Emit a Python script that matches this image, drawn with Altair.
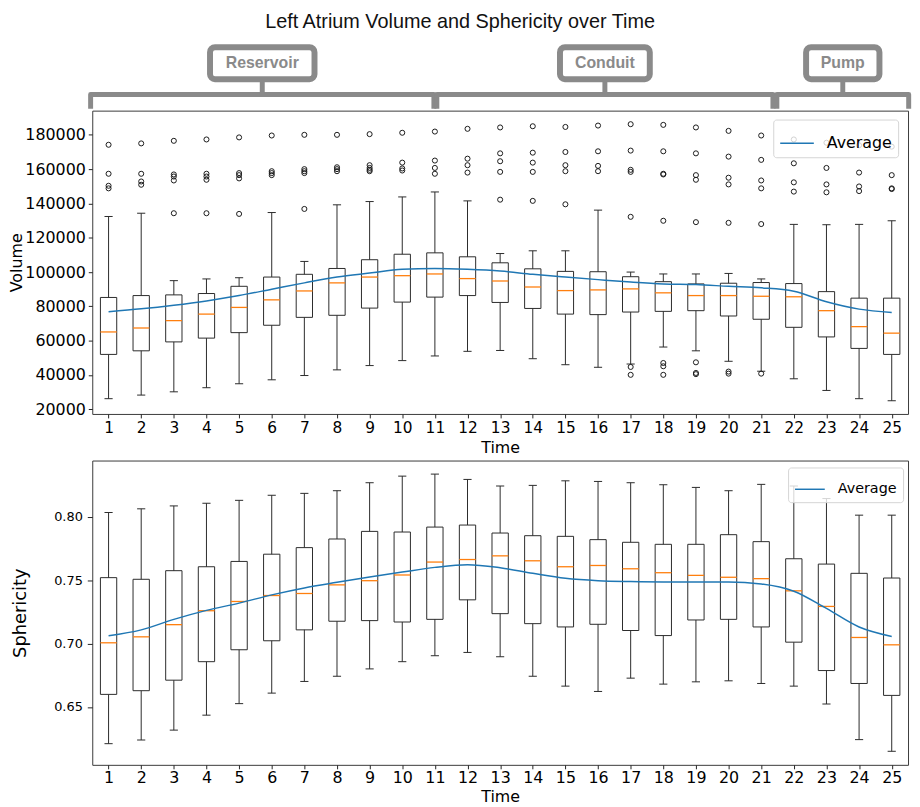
import altair as alt
import pandas as pd

# ---------------- data ----------------
times = list(range(1, 26))

vol_whislo = [26200, 28300, 30200, 32600, 34900, 37200, 39700, 43000, 45500, 48400, 51100, 53800, 54300,
              49500, 46000, 44500, 46400, 56300, 54100, 48000, 42200, 37800, 31000, 26200, 25000]
vol_q1 = [52000, 54100, 59300, 61500, 64700, 69000, 73600, 74800, 79000, 82500, 85400, 86300, 82300,
          78800, 75500, 75200, 76700, 77100, 77500, 74400, 72500, 67800, 62200, 55500, 52000]
vol_med = [65100, 67400, 71700, 75500, 79400, 83800, 89000, 93700, 97100, 97900, 98900, 96200, 94800,
           91300, 89200, 89600, 90200, 87900, 86300, 86300, 85900, 85600, 77500, 68200, 64400]
vol_q3 = [85200, 86300, 86700, 87500, 91700, 97100, 98700, 102100, 107200, 110400, 111200, 108900, 105400,
          101900, 100400, 100200, 97300, 94400, 93100, 93500, 93900, 93300, 88600, 84800, 84800]
vol_whishi = [132400, 134300, 95000, 96000, 96700, 134700, 106200, 139200, 141100, 143800, 146700, 141500, 110800,
              112400, 112400, 136100, 100000, 98900, 98900, 99200, 96000, 127800, 127600, 127800, 129900]
vol_mean = [76900, 78600, 80700, 83200, 86300, 90000, 93700, 97100, 99400, 101600, 102100, 101600, 100600,
            98700, 97100, 95600, 94200, 93100, 92700, 91700, 90800, 88800, 82700, 78400, 76500]

vol_outliers = [
    [174200, 157300, 150300, 148800],
    [175000, 157300, 152800, 150900],
    [176500, 156900, 155700, 153400, 134300],
    [177300, 157300, 155700, 153800, 134300],
    [178500, 157700, 156500, 154600, 133900],
    [179600, 158800, 157700, 156500],
    [180000, 160000, 158800, 157700, 136800],
    [180000, 161100, 160000, 158800],
    [180400, 162300, 160700, 159600, 158800],
    [181200, 163800, 160400, 159200],
    [181900, 165000, 160700, 157300],
    [183500, 166100, 162300, 158000],
    [184300, 169200, 164600, 158400, 142200],
    [185000, 169600, 163800, 158400, 141500],
    [184600, 170000, 162300, 158800, 139500],
    [185400, 170400, 161900, 158800],
    [186200, 170800, 159600, 158400, 132200, 44700, 40100],
    [185800, 170400, 157300, 156900, 129900, 47000, 45100, 40100],
    [184300, 169200, 156500, 153800, 129100, 47400, 41200, 40500],
    [182300, 167300, 155000, 151100, 128700, 42000, 40800],
    [179600, 165400, 153400, 148800, 128000, 40800],
    [177300, 163400, 152300, 146900],
    [175400, 160700, 151100, 146500],
    [173900, 158000, 149900, 147200],
    [173100, 156500, 148800, 148400],
]

sph_whislo = [0.6210, 0.6239, 0.6317, 0.6435, 0.6526, 0.6609, 0.6701, 0.6742, 0.6800, 0.6857, 0.6904, 0.6930, 0.6896,
              0.6742, 0.6664, 0.6622, 0.6727, 0.6680, 0.6698, 0.6706, 0.6685, 0.6664, 0.6523, 0.6242, 0.6150]
sph_q1 = [0.6599, 0.6628, 0.6711, 0.6857, 0.6951, 0.7022, 0.7108, 0.7176, 0.7181, 0.7170, 0.7191, 0.7345, 0.7236,
          0.7157, 0.7131, 0.7152, 0.7103, 0.7063, 0.7186, 0.7191, 0.7131, 0.7011, 0.6787, 0.6685, 0.6591]
sph_med = [0.7006, 0.7053, 0.7149, 0.7259, 0.7332, 0.7379, 0.7395, 0.7463, 0.7496, 0.7541, 0.7643, 0.7663, 0.7692,
           0.7653, 0.7606, 0.7616, 0.7590, 0.7559, 0.7538, 0.7523, 0.7512, 0.7416, 0.7293, 0.7048, 0.6990]
sph_q3 = [0.7520, 0.7507, 0.7575, 0.7606, 0.7648, 0.7705, 0.7757, 0.7825, 0.7885, 0.7880, 0.7919, 0.7935, 0.7872,
          0.7851, 0.7846, 0.7820, 0.7799, 0.7783, 0.7783, 0.7859, 0.7804, 0.7669, 0.7627, 0.7554, 0.7517]
sph_whishi = [0.8034, 0.8063, 0.8086, 0.8107, 0.8130, 0.8170, 0.8185, 0.8206, 0.8269, 0.8321, 0.8337, 0.8295, 0.8243,
              0.8248, 0.8284, 0.8279, 0.8269, 0.8253, 0.8232, 0.8206, 0.8256, 0.8243, 0.8144, 0.8013, 0.8013]
sph_mean = [0.7061, 0.7108, 0.7191, 0.7262, 0.7319, 0.7384, 0.7439, 0.7483, 0.7525, 0.7564, 0.7601, 0.7622, 0.7598,
            0.7554, 0.7515, 0.7496, 0.7489, 0.7486, 0.7486, 0.7486, 0.7470, 0.7413, 0.7277, 0.7131, 0.7056]

vol_ticks = [20000, 40000, 60000, 80000, 100000, 120000, 140000, 160000, 180000]
sph_ticks = [0.65, 0.70, 0.75, 0.80]

phase_names = ["Reservoir", "Conduit", "Pump"]
phase_start = [0.45, 11.06, 21.48]
phase_end = [10.97, 21.36, 25.52]

# ---------------- style ----------------
W = 823
H_TOP = 306
H_BOT = 307
GAP = 47
HEADER_H = 28
EDGE = "#2b2b2b"
ORANGE = "#ff7f0e"
BLUE = "#1f77b4"
GREY = "#8a8a8a"
BOX_HALF = 0.25
CAP_HALF = 0.125
LABEL_HALF_PX = [52.7, 45.3, 37.0]
HDR = dict(box_top=64.0, box_bot=31.7, text=47.8, line=16.3, end=2.0)

xscale = alt.Scale(domain=[0.5, 25.5], nice=False, zero=False)


def stats_frame(lo, q1, med, q3, hi, mean):
    return pd.DataFrame({
        "time": times, "lo": lo, "q1": q1, "med": med, "q3": q3, "hi": hi, "mean": mean,
        "x0": [t - BOX_HALF for t in times], "x1": [t + BOX_HALF for t in times],
        "c0": [t - CAP_HALF for t in times], "c1": [t + CAP_HALF for t in times],
        "series": ["Average"] * len(times),
    })


df_vol = stats_frame(vol_whislo, vol_q1, vol_med, vol_q3, vol_whishi, vol_mean)
df_sph = stats_frame(sph_whislo, sph_q1, sph_med, sph_q3, sph_whishi, sph_mean)
df_out = pd.DataFrame(
    [{"time": t, "value": v} for t, vals in zip(times, vol_outliers) for v in vals]
)


def panel(df, outliers, yscale, yaxis, ytitle, xaxis, legend, height):
    def X(f):
        return alt.X(f, type="quantitative", scale=xscale, axis=xaxis, title="Time")

    def Y(f):
        return alt.Y(f, type="quantitative", scale=yscale, axis=yaxis, title=ytitle)

    base = alt.Chart(df)
    whisk = base.mark_rule(color=EDGE, strokeWidth=1).encode(x=X("time"), y=Y("lo"), y2="hi")
    box = base.mark_rect(fill="white", stroke=EDGE, strokeWidth=1).encode(
        x=X("x0"), x2="x1", y=Y("q1"), y2="q3")
    cap_lo = base.mark_rule(color=EDGE, strokeWidth=1).encode(x=X("c0"), x2="c1", y=Y("lo"))
    cap_hi = base.mark_rule(color=EDGE, strokeWidth=1).encode(x=X("c0"), x2="c1", y=Y("hi"))
    med = base.mark_rule(color=ORANGE, strokeWidth=1.3).encode(x=X("x0"), x2="x1", y=Y("med"))
    layers = [whisk, box, cap_lo, cap_hi, med]
    if outliers is not None:
        pts = alt.Chart(outliers).mark_point(
            shape="circle", filled=False, size=26, color="#1a1a1a", strokeWidth=1, opacity=1
        ).encode(x=X("time"), y=Y("value"))
        layers.append(pts)
    mean = base.mark_line(interpolate="monotone", strokeWidth=1.5).encode(
        x=X("time"), y=Y("mean"),
        color=alt.Color("series:N", scale=alt.Scale(domain=["Average"], range=[BLUE]), legend=legend),
    )
    layers.append(mean)
    return alt.layer(*layers).properties(width=W, height=height)


def legend(x, y, fs, sym):
    return alt.Legend(
        orient="none", legendX=x, legendY=y, title=None, symbolType="stroke",
        symbolSize=sym, symbolStrokeWidth=1.5, labelFontSize=fs, labelFont="DejaVu Sans",
        labelColor="#000", fillColor="rgba(255,255,255,0.8)", strokeColor="#d4d4d4",
        cornerRadius=3, padding=6, labelOffset=12,
    )


top = panel(
    df_vol, df_out,
    alt.Scale(domain=[17300, 194100], nice=False, zero=False),
    alt.Axis(values=vol_ticks, format="d", tickSize=4, labelPadding=3, labelFontSize=16,
             titleFontSize=16, titlePadding=0, labelOverlap=False),
    "Volume",
    alt.Axis(values=times, format="d", tickSize=4, labelPadding=3, labelFontSize=15.5,
             titleFontSize=16, titlePadding=3.5, labelFlush=False, labelOverlap=False),
    legend(687, 9, 16, 1150),
    H_TOP,
)

bottom = panel(
    df_sph, None,
    alt.Scale(domain=[0.6043, 0.8444], nice=False, zero=False),
    alt.Axis(values=sph_ticks, format=".2f", tickSize=5, labelPadding=5, labelFontSize=13,
             titleFontSize=18, titlePadding=24, labelOverlap=False),
    "Sphericity",
    alt.Axis(values=times, format="d", tickSize=4, labelPadding=1, labelFontSize=16,
             titleFontSize=16, titlePadding=3, labelFlush=False, labelOverlap=False),
    legend(702, 7, 14.5, 900),
    H_BOT,
)

# ---------------- phase header ----------------
px_per_unit = W / 25.0
mids = [(s + e) / 2 for s, e in zip(phase_start, phase_end)]
df_phase = pd.DataFrame({
    "name": phase_names,
    "mid": mids,
    "bl": [m - h / px_per_unit for m, h in zip(mids, LABEL_HALF_PX)],
    "br": [m + h / px_per_unit for m, h in zip(mids, LABEL_HALF_PX)],
    "bt": HDR["box_top"], "bb": HDR["box_bot"], "ty": HDR["text"],
    "s_lo": HDR["box_bot"], "s_hi": HDR["line"],
})
br_rows = []
for n, s, e in zip(phase_names, phase_start, phase_end):
    for k, (xx, yy) in enumerate([(s, HDR["end"]), (s, HDR["line"]), (e, HDR["line"]), (e, HDR["end"])]):
        br_rows.append({"name": n, "k": k, "x": xx, "y": yy})
df_br = pd.DataFrame(br_rows)

hscale_y = alt.Scale(domain=[GAP, GAP + HEADER_H], nice=False, zero=False)


def HX(f):
    return alt.X(f, type="quantitative", scale=xscale, axis=None)


def HY(f):
    return alt.Y(f, type="quantitative", scale=hscale_y, axis=None)


brackets = alt.Chart(df_br).mark_line(color=GREY, strokeWidth=5, strokeJoin="round", strokeCap="butt").encode(
    x=HX("x"), y=HY("y"), detail="name:N", order="k:O")
stems = alt.Chart(df_phase).mark_rule(color=GREY, strokeWidth=5).encode(x=HX("mid"), y=HY("s_lo"), y2="s_hi")
boxes = alt.Chart(df_phase).mark_rect(fill="white", stroke=GREY, strokeWidth=6, cornerRadius=5).encode(
    x=HX("bl"), x2="br", y=HY("bt"), y2="bb")
labels = alt.Chart(df_phase).mark_text(
    font="Liberation Sans", fontWeight="bold", fontSize=16, color=GREY, align="center", baseline="middle"
).encode(x=HX("mid"), y=HY("ty"), text="name:N")

header = alt.layer(brackets, stems, boxes, labels).properties(
    width=W, height=HEADER_H, view=alt.ViewBackground(stroke="transparent"))

chart = (
    alt.vconcat(header, top, bottom, spacing=GAP, bounds="flush")
    .resolve_scale(color="independent")
    .resolve_legend(color="independent")
    .properties(
        title=alt.TitleParams(text="Left Atrium Volume and Sphericity over Time", font="Liberation Sans",
                              fontSize=20, fontWeight="normal", anchor="middle", offset=4, color="#111",
                              frame="bounds"),
        padding=0,
    )
    .configure_axis(labelFont="DejaVu Sans", titleFont="DejaVu Sans", titleFontWeight="normal",
                    tickColor="#222", labelColor="#000", titleColor="#000", tickWidth=1,
                    domain=False, grid=False)
    .configure_view(stroke="#3a3a3a", strokeWidth=1)
)

chart.save("out.html", embed_options={"renderer": "svg", "actions": False})
